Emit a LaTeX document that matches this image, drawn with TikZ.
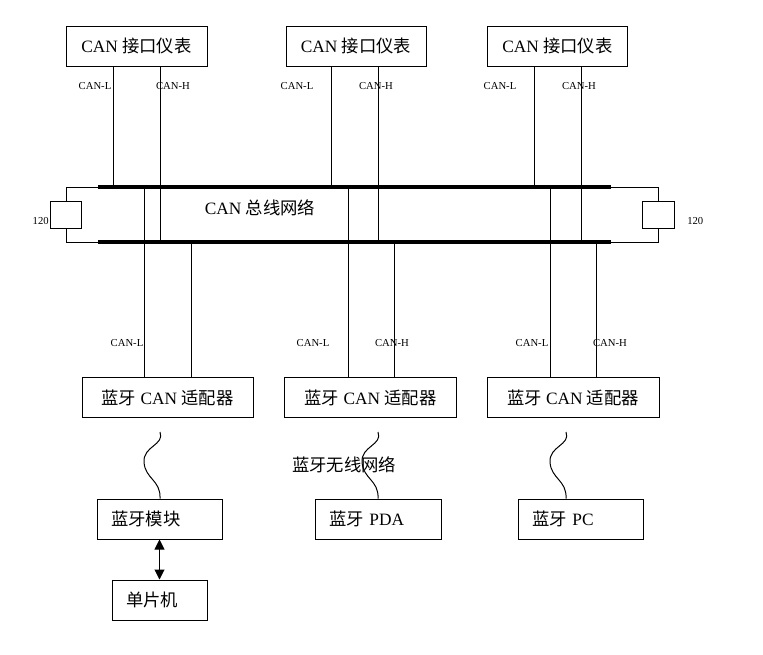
\documentclass[tikz,border=0pt]{standalone}
\usepackage{fontspec}
\setmainfont{Liberation Serif}
\newfontfamily\cjk{Noto Sans CJK SC}
\usetikzlibrary{arrows.meta,positioning}

\tikzset{
  box/.style={draw, line width=0.75pt, minimum height=30pt, inner sep=0pt,
              font=\fontsize{13}{15}\selectfont},
  lowbox/.style={box, align=left, inner xsep=10.5pt},
  tag/.style={font=\fontsize{8}{9}\selectfont, inner sep=0pt},
  wire/.style={line width=0.75pt},
  bus/.style={line width=2.3pt},
  res/.style={draw, line width=0.75pt, minimum width=23.5pt, minimum height=20.25pt, inner sep=0pt},
}

\begin{document}
\begin{tikzpicture}[x=0.75pt,y=-0.75pt]
\useasboundingbox (0,0) rectangle (763,654);

% instruments on the CAN bus
\node[box, minimum width=105.75pt] (m1) at (136.5,46) {CAN {\cjk 接口仪表}};
\node[box, minimum width=105pt]    (m2) at (356,46)   {CAN {\cjk 接口仪表}};
\node[box, minimum width=105pt]    (m3) at (557.5,46) {CAN {\cjk 接口仪表}};

% bus lines and terminating resistors
\coordinate (busTL) at (98,187);
\coordinate (busTR) at (611,187);
\coordinate (busBL) at (98,242);
\coordinate (busBR) at (611,242);
\draw[bus] (busTL) -- (busTR);
\draw[bus] (busBL) -- (busBR);
\node[res] (r1) at (66,214.5) {};
\node[res] (r2) at (658.5,214.5) {};
\draw[wire] (busTL) -| (r1.north);
\draw[wire] (busBL) -| (r1.south);
\draw[wire] (busTR) -| (r2.north);
\draw[wire] (busBR) -| (r2.south);
\node[tag, anchor=east] (r1t) at (49,221) {120};
\node[tag, anchor=west] (r2t) at (687,221) {120};
\node[font=\fontsize{13}{15}\selectfont, inner sep=0pt] (cannet) at (260,208) {CAN {\cjk 总线网络}};

% taps from the instruments
\foreach \n/\l/\h in {1/113/160, 2/331/378, 3/534/581} {
  \coordinate (mL\n) at (\l,187);
  \coordinate (mH\n) at (\h,242);
  \draw[wire] (m\n.south -| mL\n) -- (mL\n);
  \draw[wire] (m\n.south -| mH\n) -- (mH\n);
}
\node[tag] (mLt1) at (95,86)  {CAN-L};
\node[tag] (mHt1) at (173,86) {CAN-H};
\node[tag] (mLt2) at (297,86) {CAN-L};
\node[tag] (mHt2) at (376,86) {CAN-H};
\node[tag] (mLt3) at (500,86) {CAN-L};
\node[tag] (mHt3) at (579,86) {CAN-H};

% bluetooth CAN adapters
\node[box, minimum width=128.25pt] (a1) at (167.5,397.5) {{\cjk 蓝牙} CAN {\cjk 适配器}};
\node[box, minimum width=129pt]    (a2) at (370.5,397.5) {{\cjk 蓝牙} CAN {\cjk 适配器}};
\node[box, minimum width=129pt]    (a3) at (573,397.5)   {{\cjk 蓝牙} CAN {\cjk 适配器}};

\foreach \n/\l/\h in {1/144/191, 2/348/394, 3/550/596} {
  \coordinate (aL\n) at (\l,187);
  \coordinate (aH\n) at (\h,242);
  \draw[wire] (aL\n) -- (a\n.north -| aL\n);
  \draw[wire] (aH\n) -- (a\n.north -| aH\n);
}
\node[tag] (aLt1) at (127,343) {CAN-L};
\node[tag] (aLt2) at (313,343) {CAN-L};
\node[tag] (aHt2) at (392,343) {CAN-H};
\node[tag] (aLt3) at (532,343) {CAN-L};
\node[tag] (aHt3) at (610,343) {CAN-H};

% bluetooth devices
\node[lowbox, text width=72.75pt] (b1) at (159.5,519) {{\cjk 蓝牙模块}};
\node[lowbox, text width=73.5pt]  (b2) at (378,519)   {{\cjk 蓝牙} PDA};
\node[lowbox, text width=72.75pt] (b3) at (580.5,519) {{\cjk 蓝牙} PC};
\node[lowbox, text width=50.25pt] (c1) at (159.5,600) {{\cjk 单片机}};
\draw[wire, {Triangle[length=7.5pt,width=7.5pt]}-{Triangle[length=7.5pt,width=7.5pt]}] (b1.south) -- (c1.north);

% wireless links
\foreach \n/\x in {1/160, 2/378, 3/566} {
  \coordinate (w\n) at (\x,432);
  \draw[wire] (w\n) .. controls (\x+5,445) and (\x-17,446) .. (\x-16,462)
    .. controls (\x-15,479) and (\x+1,480) .. (b\n.north -| w\n);
}
\node[font=\fontsize{13}{15}\selectfont, inner sep=0pt] (btnet) at (344,465) {\cjk 蓝牙无线网络};
\end{tikzpicture}
\end{document}
